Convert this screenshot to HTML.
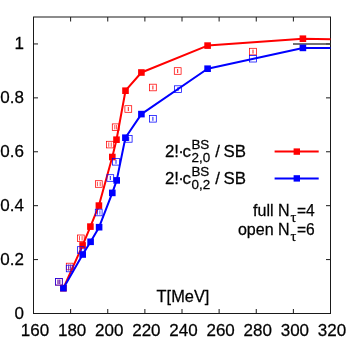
<!DOCTYPE html>
<html><head><meta charset="utf-8"><style>
html,body{margin:0;padding:0;background:#fff;}
svg{display:block;font-family:"Liberation Sans",sans-serif;fill:#000;}
</style></head><body>
<svg width="347" height="347" viewBox="0 0 347 347">
<rect width="347" height="347" fill="#fff"/>
<rect x="33.5" y="17.0" width="297.0" height="296.5" fill="none" stroke="#1a1a1a" stroke-width="1"/>
<path d="M33.50 313.5v-4.5M33.50 17.0v4.5" stroke="#1a1a1a" stroke-width="1" fill="none"/>
<path d="M70.62 313.5v-4.5M70.62 17.0v4.5" stroke="#1a1a1a" stroke-width="1" fill="none"/>
<path d="M107.75 313.5v-4.5M107.75 17.0v4.5" stroke="#1a1a1a" stroke-width="1" fill="none"/>
<path d="M144.88 313.5v-4.5M144.88 17.0v4.5" stroke="#1a1a1a" stroke-width="1" fill="none"/>
<path d="M182.00 313.5v-4.5M182.00 17.0v4.5" stroke="#1a1a1a" stroke-width="1" fill="none"/>
<path d="M219.12 313.5v-4.5M219.12 17.0v4.5" stroke="#1a1a1a" stroke-width="1" fill="none"/>
<path d="M256.25 313.5v-4.5M256.25 17.0v4.5" stroke="#1a1a1a" stroke-width="1" fill="none"/>
<path d="M293.38 313.5v-4.5M293.38 17.0v4.5" stroke="#1a1a1a" stroke-width="1" fill="none"/>
<path d="M330.50 313.5v-4.5M330.50 17.0v4.5" stroke="#1a1a1a" stroke-width="1" fill="none"/>
<path d="M33.5 313.50h4.5M330.5 313.50h-4.5" stroke="#1a1a1a" stroke-width="1" fill="none"/>
<path d="M33.5 259.59h4.5M330.5 259.59h-4.5" stroke="#1a1a1a" stroke-width="1" fill="none"/>
<path d="M33.5 205.68h4.5M330.5 205.68h-4.5" stroke="#1a1a1a" stroke-width="1" fill="none"/>
<path d="M33.5 151.77h4.5M330.5 151.77h-4.5" stroke="#1a1a1a" stroke-width="1" fill="none"/>
<path d="M33.5 97.86h4.5M330.5 97.86h-4.5" stroke="#1a1a1a" stroke-width="1" fill="none"/>
<path d="M33.5 43.95h4.5M330.5 43.95h-4.5" stroke="#1a1a1a" stroke-width="1" fill="none"/>
<path d="M293 43.95H330.5" stroke="#444" stroke-width="1.6" fill="none"/>
<path d="M63.40 288.20 L82.60 245.40 L90.40 226.60 L98.90 205.60 L112.30 157.00 L116.50 139.70 L125.50 90.70 L141.40 72.50 L207.60 45.60 L302.90 38.70 L330.50 39.30" fill="none" stroke="#ff0000" stroke-width="2" stroke-linejoin="round"/>
<rect x="60.10" y="284.90" width="6.6" height="6.6" fill="#ff0000"/>
<rect x="79.30" y="242.10" width="6.6" height="6.6" fill="#ff0000"/>
<rect x="87.10" y="223.30" width="6.6" height="6.6" fill="#ff0000"/>
<rect x="95.60" y="202.30" width="6.6" height="6.6" fill="#ff0000"/>
<rect x="109.00" y="153.70" width="6.6" height="6.6" fill="#ff0000"/>
<rect x="113.20" y="136.40" width="6.6" height="6.6" fill="#ff0000"/>
<rect x="122.20" y="87.40" width="6.6" height="6.6" fill="#ff0000"/>
<rect x="138.10" y="69.20" width="6.6" height="6.6" fill="#ff0000"/>
<rect x="204.30" y="42.30" width="6.6" height="6.6" fill="#ff0000"/>
<rect x="299.60" y="35.40" width="6.6" height="6.6" fill="#ff0000"/>
<path d="M63.40 288.20 L82.70 254.50 L90.60 241.80 L99.10 227.20 L112.30 192.90 L116.70 180.40 L125.40 137.70 L141.40 114.10 L207.60 68.70 L302.90 47.90 L330.50 47.90" fill="none" stroke="#0000ff" stroke-width="2" stroke-linejoin="round"/>
<rect x="60.10" y="284.90" width="6.6" height="6.6" fill="#0000ff"/>
<rect x="79.40" y="251.20" width="6.6" height="6.6" fill="#0000ff"/>
<rect x="87.30" y="238.50" width="6.6" height="6.6" fill="#0000ff"/>
<rect x="95.80" y="223.90" width="6.6" height="6.6" fill="#0000ff"/>
<rect x="109.00" y="189.60" width="6.6" height="6.6" fill="#0000ff"/>
<rect x="113.40" y="177.10" width="6.6" height="6.6" fill="#0000ff"/>
<rect x="122.10" y="134.40" width="6.6" height="6.6" fill="#0000ff"/>
<rect x="138.10" y="110.80" width="6.6" height="6.6" fill="#0000ff"/>
<rect x="204.30" y="65.40" width="6.6" height="6.6" fill="#0000ff"/>
<rect x="299.60" y="44.60" width="6.6" height="6.6" fill="#0000ff"/>
<rect x="55.50" y="278.50" width="6.8" height="6.6" fill="none" stroke="#ff0000" stroke-width="0.75"/>
<path d="M58.00 279.60v4.4M59.80 279.60v4.4" stroke="#ff0000" stroke-width="0.7" fill="none"/>
<rect x="66.30" y="263.20" width="6.8" height="6.6" fill="none" stroke="#ff0000" stroke-width="0.75"/>
<path d="M68.70 264.30v4.4M70.70 264.30v4.4" stroke="#ff0000" stroke-width="0.7" fill="none"/>
<rect x="77.40" y="235.00" width="6.8" height="6.6" fill="none" stroke="#ff0000" stroke-width="0.75"/>
<path d="M79.50 236.10v4.4M82.10 236.10v4.4" stroke="#ff0000" stroke-width="0.7" fill="none"/>
<rect x="95.40" y="180.70" width="6.8" height="6.6" fill="none" stroke="#ff0000" stroke-width="0.75"/>
<path d="M97.40 181.80v4.4M100.20 181.80v4.4" stroke="#ff0000" stroke-width="0.7" fill="none"/>
<rect x="106.60" y="141.30" width="6.8" height="6.6" fill="none" stroke="#ff0000" stroke-width="0.75"/>
<path d="M108.75 142.40v4.4M111.25 142.40v4.4" stroke="#ff0000" stroke-width="0.7" fill="none"/>
<rect x="112.30" y="123.90" width="6.8" height="6.6" fill="none" stroke="#ff0000" stroke-width="0.75"/>
<path d="M114.80 125.00v4.4M116.60 125.00v4.4" stroke="#ff0000" stroke-width="0.7" fill="none"/>
<rect x="124.90" y="105.70" width="6.8" height="6.6" fill="none" stroke="#ff0000" stroke-width="0.75"/>
<path d="M128.30 107.00v4.0" stroke="#ff0000" stroke-width="0.9" fill="none"/>
<rect x="149.50" y="84.20" width="6.8" height="6.6" fill="none" stroke="#ff0000" stroke-width="0.75"/>
<path d="M152.90 85.50v4.0" stroke="#ff0000" stroke-width="0.9" fill="none"/>
<rect x="174.30" y="67.70" width="6.8" height="6.6" fill="none" stroke="#ff0000" stroke-width="0.75"/>
<path d="M177.70 69.00v4.0" stroke="#ff0000" stroke-width="0.9" fill="none"/>
<rect x="249.60" y="48.30" width="6.8" height="6.6" fill="none" stroke="#ff0000" stroke-width="0.75"/>
<path d="M253.00 49.60v4.0" stroke="#ff0000" stroke-width="0.9" fill="none"/>
<rect x="55.50" y="278.50" width="6.8" height="6.6" fill="none" stroke="#0000ff" stroke-width="0.75"/>
<path d="M58.00 279.60v4.4M59.80 279.60v4.4" stroke="#0000ff" stroke-width="0.7" fill="none"/>
<rect x="66.30" y="265.20" width="6.8" height="6.6" fill="none" stroke="#0000ff" stroke-width="0.75"/>
<path d="M68.70 266.30v4.4M70.70 266.30v4.4" stroke="#0000ff" stroke-width="0.7" fill="none"/>
<rect x="77.40" y="246.70" width="6.8" height="6.6" fill="none" stroke="#0000ff" stroke-width="0.75"/>
<path d="M80.00 247.80v4.4M81.60 247.80v4.4" stroke="#0000ff" stroke-width="0.7" fill="none"/>
<rect x="95.30" y="209.20" width="6.8" height="6.6" fill="none" stroke="#0000ff" stroke-width="0.75"/>
<path d="M97.50 210.30v4.4M99.90 210.30v4.4" stroke="#0000ff" stroke-width="0.7" fill="none"/>
<rect x="106.90" y="174.70" width="6.8" height="6.6" fill="none" stroke="#0000ff" stroke-width="0.75"/>
<path d="M110.30 176.00v4.0" stroke="#0000ff" stroke-width="0.9" fill="none"/>
<rect x="112.60" y="158.50" width="6.8" height="6.6" fill="none" stroke="#0000ff" stroke-width="0.75"/>
<path d="M116.00 159.80v4.0" stroke="#0000ff" stroke-width="0.9" fill="none"/>
<rect x="125.30" y="135.60" width="6.8" height="6.6" fill="none" stroke="#0000ff" stroke-width="0.75"/>
<path d="M128.70 136.90v4.0" stroke="#0000ff" stroke-width="0.9" fill="none"/>
<rect x="149.50" y="115.50" width="6.8" height="6.6" fill="none" stroke="#0000ff" stroke-width="0.75"/>
<path d="M152.90 116.80v4.0" stroke="#0000ff" stroke-width="0.9" fill="none"/>
<rect x="174.60" y="85.80" width="6.8" height="6.6" fill="none" stroke="#0000ff" stroke-width="0.75"/>
<path d="M178.00 87.10v4.0" stroke="#0000ff" stroke-width="0.9" fill="none"/>
<rect x="249.60" y="55.40" width="6.8" height="6.6" fill="none" stroke="#0000ff" stroke-width="0.75"/>
<path d="M274.6 151.6H318.7" stroke="#ff0000" stroke-width="2"/>
<rect x="293.6" y="148.4" width="6.4" height="6.4" fill="#ff0000"/>
<path d="M274.6 178.4H318.7" stroke="#0000ff" stroke-width="2"/>
<rect x="293.6" y="175.20000000000002" width="6.4" height="6.4" fill="#0000ff"/>
<g opacity="0.999" stroke="#000" stroke-width="0.25">
<text transform="translate(35.00 336.30) scale(1.05 1)" font-size="16.2" text-anchor="middle">160</text>
<text transform="translate(72.12 336.30) scale(1.05 1)" font-size="16.2" text-anchor="middle">180</text>
<text transform="translate(109.25 336.30) scale(1.05 1)" font-size="16.2" text-anchor="middle">200</text>
<text transform="translate(146.38 336.30) scale(1.05 1)" font-size="16.2" text-anchor="middle">220</text>
<text transform="translate(183.50 336.30) scale(1.05 1)" font-size="16.2" text-anchor="middle">240</text>
<text transform="translate(220.62 336.30) scale(1.05 1)" font-size="16.2" text-anchor="middle">260</text>
<text transform="translate(257.75 336.30) scale(1.05 1)" font-size="16.2" text-anchor="middle">280</text>
<text transform="translate(294.88 336.30) scale(1.05 1)" font-size="16.2" text-anchor="middle">300</text>
<text transform="translate(332.00 336.30) scale(1.05 1)" font-size="16.2" text-anchor="middle">320</text>
<text transform="translate(24.00 318.70) scale(1.05 1)" font-size="16.2" text-anchor="end">0</text>
<text transform="translate(24.00 264.79) scale(1.05 1)" font-size="16.2" text-anchor="end">0.2</text>
<text transform="translate(24.00 210.88) scale(1.05 1)" font-size="16.2" text-anchor="end">0.4</text>
<text transform="translate(24.00 156.97) scale(1.05 1)" font-size="16.2" text-anchor="end">0.6</text>
<text transform="translate(24.00 103.06) scale(1.05 1)" font-size="16.2" text-anchor="end">0.8</text>
<text transform="translate(24.00 49.15) scale(1.05 1)" font-size="16.2" text-anchor="end">1</text>
<text transform="translate(156.60 302.40) scale(1.05 1)" font-size="15.6" text-anchor="start">T[MeV]</text>
<text transform="translate(165.10 157.20) scale(1.08 1)" font-size="15.6" text-anchor="start">2</text>
<text transform="translate(174.30 157.20) scale(1.08 1)" font-size="15.6" text-anchor="start">!</text>
<text transform="translate(178.20 157.20) scale(1.08 1)" font-size="15.6" text-anchor="start">·</text>
<text transform="translate(182.60 157.20) scale(1.08 1)" font-size="15.6" text-anchor="start">c</text>
<text transform="translate(191.40 149.10) scale(1.05 1)" font-size="12.8" text-anchor="start">BS</text>
<text transform="translate(191.50 162.10) scale(1.05 1)" font-size="12.8" text-anchor="start">2,0</text>
<text transform="translate(215.30 157.20) scale(1.08 1)" font-size="15.6" text-anchor="start">/</text>
<text transform="translate(223.40 157.20) scale(1.08 1)" font-size="15.6" text-anchor="start">SB</text>
<text transform="translate(165.10 184.20) scale(1.08 1)" font-size="15.6" text-anchor="start">2</text>
<text transform="translate(174.30 184.20) scale(1.08 1)" font-size="15.6" text-anchor="start">!</text>
<text transform="translate(178.20 184.20) scale(1.08 1)" font-size="15.6" text-anchor="start">·</text>
<text transform="translate(182.60 184.20) scale(1.08 1)" font-size="15.6" text-anchor="start">c</text>
<text transform="translate(191.40 176.10) scale(1.05 1)" font-size="12.8" text-anchor="start">BS</text>
<text transform="translate(191.50 189.10) scale(1.05 1)" font-size="12.8" text-anchor="start">0,2</text>
<text transform="translate(215.30 184.20) scale(1.08 1)" font-size="15.6" text-anchor="start">/</text>
<text transform="translate(223.40 184.20) scale(1.08 1)" font-size="15.6" text-anchor="start">SB</text>
<text transform="translate(289.70 216.10) scale(1.03 1)" font-size="15.6" text-anchor="end">full N</text>
<text transform="translate(290.50 221.70) scale(1.0 1)" font-size="14.5" text-anchor="start" font-family="Liberation Serif">τ</text>
<text transform="translate(297.00 216.10) scale(1.0 1)" font-size="15.6" text-anchor="start">=4</text>
<text transform="translate(289.70 235.00) scale(1.03 1)" font-size="15.6" text-anchor="end">open N</text>
<text transform="translate(290.50 240.60) scale(1.0 1)" font-size="14.5" text-anchor="start" font-family="Liberation Serif">τ</text>
<text transform="translate(297.00 235.00) scale(1.0 1)" font-size="15.6" text-anchor="start">=6</text>
</g>
</svg></body></html>
